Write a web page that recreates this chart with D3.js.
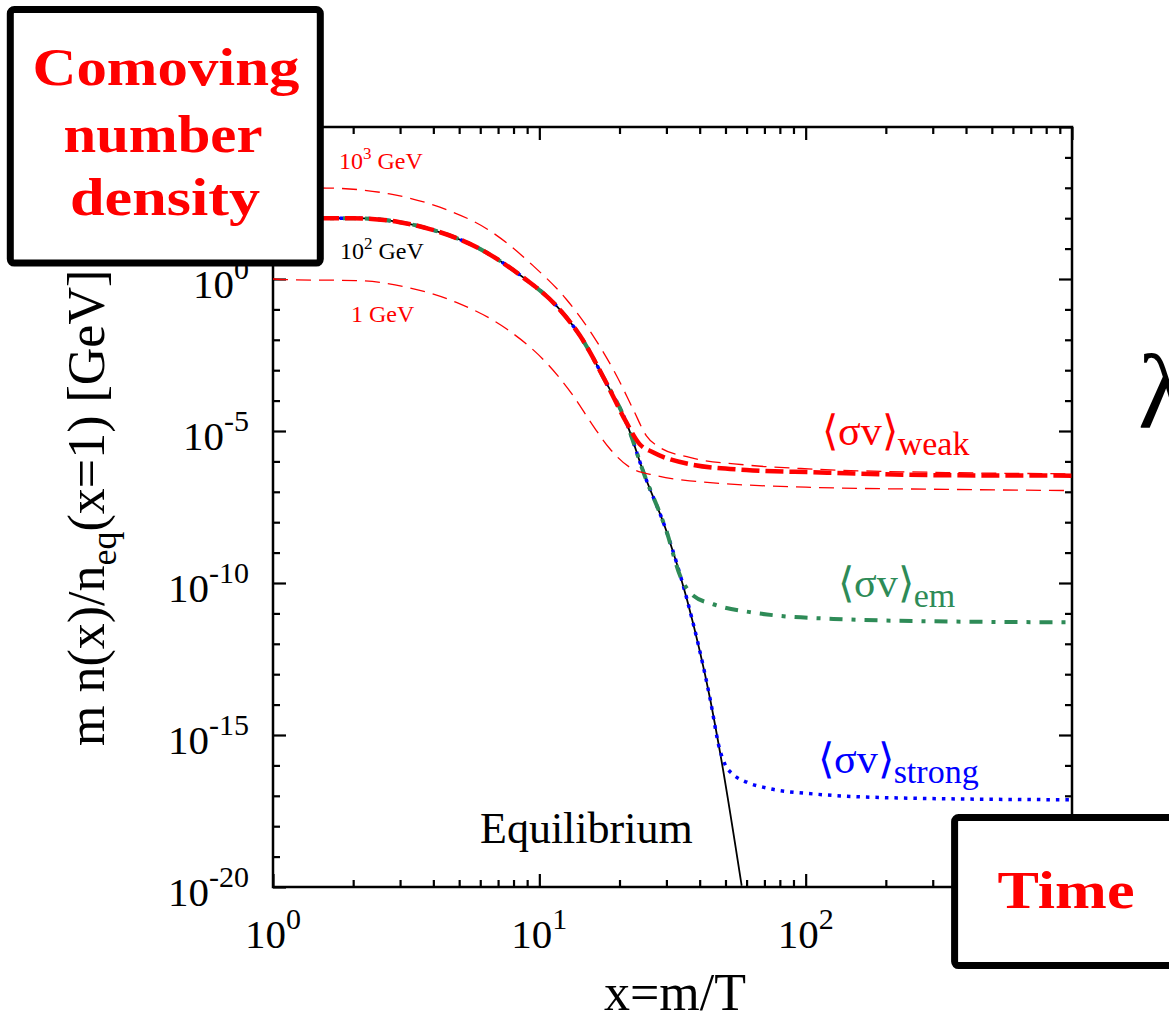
<!DOCTYPE html>
<html>
<head>
<meta charset="utf-8">
<script src="https://cdn.jsdelivr.net/npm/d3@7"></script>
<style>
  html, body { margin: 0; padding: 0; background: #fff; overflow: hidden; }
  svg { display: block; font-family: "Liberation Serif", "Times New Roman", serif; }
</style>
</head>
<body>
<svg id="chart"></svg>
<script>
// values: x = m/T, y = m n(x)/n_eq(x=1) [GeV]

// stretch all the 10^2 GeV curves share while still in equilibrium
const sharedX = [1, 1.54, 2.0, 2.99, 3.88, 5.98, 8.67, 11.6, 14.2, 17.8, 21.2];
const sharedY = [100, 100, 100, 74, 44, 9.8, 1.15, 0.13, 0.0138, 4.0e-4, 1.95e-5];

// equilibrium tail
const eqX = [24.6, 30.1, 35.8, 43.8, 47.7, 57.5];
const eqY = [4.4e-7, 4.7e-9, 3.0e-11, 1.5e-14, 2.7e-16, 1.1e-20];

// freeze-out tails
const weakX = [23.8, 26.7, 36.7, 60, 106.6, 338, 1000];
const weakY = [3.7e-6, 2.0e-6, 8.1e-7, 5.2e-7, 4.4e-7, 3.5e-7, 3.4e-7];

const emX = [24.6, 30.1, 33.8, 37.9, 45, 61.8, 80, 127, 300, 1000];
const emY = [4.4e-7, 4.7e-9, 1.7e-10, 3.8e-11, 2.0e-11, 1.1e-11, 8.3e-12, 6.6e-12, 5.5e-12, 5.1e-12];

const strongX = [24.6, 30.1, 35.8, 43.8, 47.5, 50, 53.5, 60.1, 71.4, 107, 254, 1000];
const strongY = [4.4e-7, 4.7e-9, 3.0e-11, 1.5e-14, 3.5e-16, 1.0e-16, 5.0e-17, 2.8e-17, 1.8e-17, 1.15e-17, 8.3e-18, 7.4e-18];

// 10^3 GeV and 1 GeV weak curves
const heavyX = [1, 1.59, 2.74, 4.23, 6.51, 9.47, 12.6, 15.9, 19.5, 22.5, 25.2, 28.3, 36.7, 60, 106, 338, 1000];
const heavyY = [1000, 980, 630, 230, 39, 2.75, 0.22, 0.0138, 6.6e-4, 5.2e-5, 7.1e-6, 2.9e-6, 1.35e-6, 7.6e-7, 5.6e-7, 4.3e-7, 3.9e-7];

const lightX = [1, 1.12, 2.05, 3.17, 4.88, 7.52, 10.6, 13.4, 15.9, 18.4, 21.8, 27.5, 36.7, 106, 338, 1000];
const lightY = [1, 0.95, 0.89, 0.54, 0.17, 0.023, 1.8e-3, 1.45e-4, 1.5e-5, 2.6e-6, 6.5e-7, 3.4e-7, 2.3e-7, 1.4e-7, 1.2e-7, 1.1e-7];

// ticks
const xMajor = [1, 10, 100, 1000];
const xTickExp = ["0", "1", "2", "3"];
const yMajor = [1e-20, 1e-15, 1e-10, 1e-5, 1];
const yTickExp = ["-20", "-15", "-10", "-5", "0"];

const W = 1169, H = 1019;
const frame = { left: 273, right: 1072, top: 127, bottom: 887 };

const svg = d3.select("#chart").attr("width", W).attr("height", H);

const x = d3.scaleLog().domain([1, 1000]).range([frame.left, frame.right]);
const y = d3.scaleLog().domain([1e-20, 1e5]).range([frame.bottom, frame.top]);

const zip = (xs, ys) => xs.map((v, i) => [v, ys[i]]);
const shared = zip(sharedX, sharedY);

// clip
svg.append("defs").append("clipPath").attr("id", "plot-clip")
  .append("rect")
  .attr("x", frame.left).attr("y", frame.top)
  .attr("width", frame.right - frame.left)
  .attr("height", frame.bottom - frame.top);

// minor / major ticks on all four sides, pointing inward
const xMinor = [];
[1, 10, 100].forEach(d => { for (let k = 2; k <= 9; k++) xMinor.push(d * k); });
const yAll = d3.range(-20, 6).map(e => Math.pow(10, e));
const yMinor = yAll.filter(v => !yMajor.includes(v) && v !== 1e5);

function ticks(axisFn, scale, values, len, tx, ty) {
  const g = svg.append("g")
    .attr("transform", `translate(${tx},${ty})`)
    .call(axisFn(scale).tickValues(values).tickSize(-len).tickFormat(""));
  g.select(".domain").remove();
  g.selectAll(".tick line").attr("stroke", "#000").attr("stroke-width", 2.2);
}
ticks(d3.axisBottom, x, xMinor, 7, 0, frame.bottom);
ticks(d3.axisBottom, x, xMajor, 13, 0, frame.bottom);
ticks(d3.axisTop, x, xMinor, 7, 0, frame.top);
ticks(d3.axisTop, x, xMajor, 13, 0, frame.top);
ticks(d3.axisLeft, y, yMinor, 7, frame.left, 0);
ticks(d3.axisLeft, y, yMajor.concat([1e5]), 13, frame.left, 0);
ticks(d3.axisRight, y, yMinor, 7, frame.right, 0);
ticks(d3.axisRight, y, yMajor.concat([1e5]), 13, frame.right, 0);

svg.append("rect")
  .attr("x", frame.left).attr("y", frame.top)
  .attr("width", frame.right - frame.left)
  .attr("height", frame.bottom - frame.top)
  .attr("fill", "none").attr("stroke", "#000").attr("stroke-width", 2.5);

// tick labels
xMajor.forEach((v, i) => {
  const t = svg.append("text")
    .attr("x", x(v)).attr("y", 948)
    .attr("text-anchor", "middle")
    .attr("font-size", 41).attr("fill", "#000");
  t.append("tspan").text("10");
  t.append("tspan").attr("dy", -19).attr("font-size", 30).text(xTickExp[i]);
});
yMajor.forEach((v, i) => {
  const t = svg.append("text")
    .attr("x", 249).attr("y", y(v) + 19)
    .attr("text-anchor", "end")
    .attr("font-size", 41).attr("fill", "#000");
  t.append("tspan").text("10");
  t.append("tspan").attr("dy", -19).attr("font-size", 30).text(yTickExp[i]);
});

// curves
const line = d3.line()
  .x(d => x(d[0]))
  .y(d => y(d[1]))
  .curve(d3.curveMonotoneX);

const plot = svg.append("g").attr("clip-path", "url(#plot-clip)");

function curve(data, color, width, dash) {
  plot.append("path")
    .attr("d", line(data))
    .attr("fill", "none")
    .attr("stroke", color)
    .attr("stroke-width", width)
    .attr("stroke-dasharray", dash || null)
    .attr("stroke-linejoin", "round");
}

curve(shared.concat(zip(eqX, eqY)), "#000", 1.8);
curve(shared.concat(zip(strongX, strongY)), "#0000ff", 3.5, "3.5,6");
curve(shared.concat(zip(emX, emY)), "#2e8b57", 4, "13,9,4,9");
curve(shared.concat(zip(weakX, weakY)), "#ff0000", 4.5, "18,6");
curve(zip(heavyX, heavyY), "#ff0000", 1.3, "15,8");
curve(zip(lightX, lightY), "#ff0000", 1.3, "15,8");

// in-plot labels
function massLabel(xp, yp, exp, color) {
  const t = svg.append("text").attr("x", xp).attr("y", yp)
    .attr("font-size", 24).attr("fill", color);
  if (exp) {
    t.append("tspan").text("10");
    t.append("tspan").attr("dy", -10).attr("font-size", 17).text(exp);
    t.append("tspan").attr("dy", 10).text(" GeV");
  } else {
    t.append("tspan").text("1 GeV");
  }
}
massLabel(339, 169, "3", "#ff0000");
massLabel(340, 259, "2", "#000");
massLabel(351, 322, null, "#ff0000");

function sigmaLabel(xp, yp, sub, color) {
  const t = svg.append("text").attr("x", xp).attr("y", yp)
    .attr("font-size", 42).attr("fill", color);
  t.append("tspan").text("\u27E8\u03C3v\u27E9");
  t.append("tspan").attr("dy", 10).attr("font-size", 34).text(sub);
}
sigmaLabel(822, 445, "weak", "#ff0000");
sigmaLabel(838, 597, "em", "#2e8b57");
sigmaLabel(818, 773, "strong", "#0000ff");

svg.append("text")
  .attr("x", 480).attr("y", 843)
  .attr("font-size", 44).attr("fill", "#000")
  .text("Equilibrium");

// axis titles
svg.append("text")
  .attr("x", 675).attr("y", 1010)
  .attr("text-anchor", "middle")
  .attr("font-size", 52).attr("fill", "#000")
  .text("x=m/T");

const yl = svg.append("text")
  .attr("transform", "translate(104,746) rotate(-90)")
  .attr("text-anchor", "start")
  .attr("font-size", 52).attr("fill", "#000");
yl.append("tspan").text("m n(x)/n");
yl.append("tspan").attr("dy", 12).attr("font-size", 36).text("eq");
yl.append("tspan").attr("dy", -12).text("(x=1) [GeV]");

// cut-off glyph at the right edge
svg.append("text")
  .attr("x", 1138).attr("y", 428)
  .attr("font-size", 105).attr("fill", "#000")
  .text("\u03BB");

// annotation boxes
function box(bx, by, bw, bh, lines) {
  svg.append("rect")
    .attr("x", bx).attr("y", by).attr("width", bw).attr("height", bh)
    .attr("rx", 4)
    .attr("fill", "#fff").attr("stroke", "#000").attr("stroke-width", 7);
  lines.forEach(l => {
    svg.append("text")
      .attr("x", l.cx).attr("y", l.y)
      .attr("text-anchor", "middle")
      .attr("font-size", 53).attr("font-weight", "bold")
      .attr("fill", "#ff0000")
      .attr("textLength", l.w).attr("lengthAdjust", "spacingAndGlyphs")
      .text(l.text);
  });
}
box(10.3, 9.6, 310, 253.5, [
  { text: "Comoving", cx: 166, y: 85, w: 267 },
  { text: "number", cx: 163, y: 152, w: 199 },
  { text: "density", cx: 165, y: 215, w: 190 }
]);
box(954.6, 817.6, 260, 148, [
  { text: "Time", cx: 1066, y: 908, w: 137 }
]);
</script>
</body>
</html>
